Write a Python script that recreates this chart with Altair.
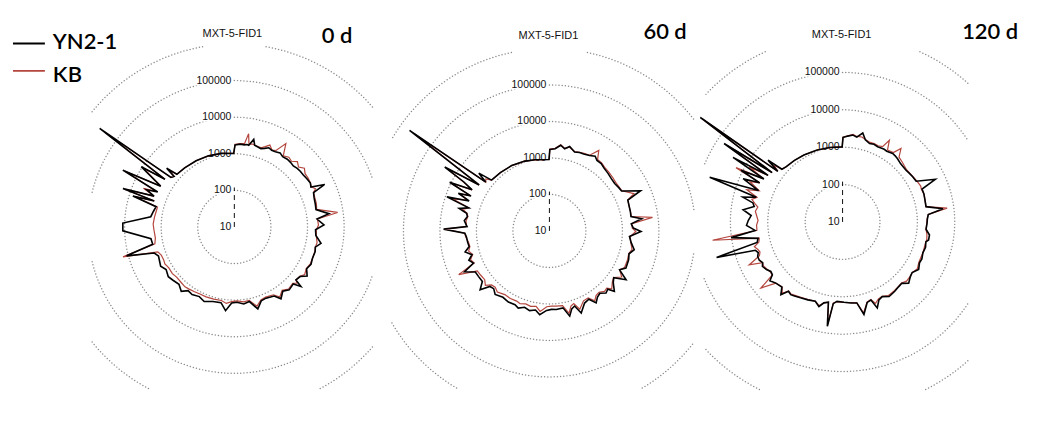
import math
import pandas as pd
import altair as alt

SERIES = ["YN2-1", "KB"]
COLORS = ["#000000", "#b4463e"]
ring_levels = [100, 1000, 10000, 100000, 1000000]
axis_values = [10, 100, 1000, 10000, 100000]
axis_text = ["10", "100", "1000", "10000", "100000"]
panel_title = "MXT-5-FID1"
day_labels = ["0 d", "60 d", "120 d"]

# ---- panel 1 (0 d): angle (deg, clockwise from top) and intensity ----
p1_angle = [0.5, 4, 7, 8.7, 10, 12.5, 14, 18.7, 21, 23.5,
            26, 28.6, 31.7, 34.5, 38, 41, 44, 47, 50, 53,
            56.4, 60, 62.5, 64.8, 66.5, 70, 74, 78, 82, 84.5,
            88.7, 92, 96, 100.7, 104, 107, 112, 116, 120, 124,
            127, 130.7, 131.8, 134, 138.9, 143, 147, 150, 156, 160,
            164, 168.6, 173, 178, 182, 186, 190, 196, 202, 206.7,
            212, 216, 219.5, 224, 229, 233, 238, 242, 245, 249,
            252, 255, 258, 262, 268, 272, 277, 281, 284.5, 287,
            288, 289, 291, 293, 294.5, 297, 299, 302.9, 304.5, 306.2,
            308, 310, 311, 312.5, 320, 330, 340, 350, 359.5]
p1_yn = [1740, 1860, 1820, 1910, 1860, 2820, 2000, 1820, 2000, 2290,
         2140, 2190, 2400, 2140, 2240, 2190, 2090, 2240, 2290, 2290,
         2400, 2510, 2290, 5370, 2290, 2090, 2000, 1910, 4070, 1860,
         2820, 1660, 1740, 2570, 1910, 2040, 2000, 2140, 1910, 2510,
         1780, 1660, 2750, 1740, 1910, 1580, 2190, 1510, 1350, 1410,
         2140, 1200, 1320, 1150, 1200, 2000, 1260, 1320, 1580, 1350,
         1510, 1410, 1910, 1510, 1660, 1820, 1580, 1910, 1780, 1660,
         2000, 11200, 1910, 2000, 11200, 11200, 2000, 1780, 1620, 7940,
         2000, 16600, 2240, 3980, 2000, 26300, 2000, 10700, 2000, 363000,
         1580, 1410, 2820, 1350, 1290, 1230, 1170, 1100, 1020]
p1_kb = [1820, 1910, 2000, 3800, 2000, 2090, 2000, 1910, 2240, 2750,
         2190, 2400, 4790, 2290, 2630, 2400, 3020, 2510, 3160, 2630,
         2630, 2510, 2340, 2820, 2290, 2190, 2140, 2000, 7080, 1910,
         2000, 1740, 1780, 2000, 1910, 2000, 2000, 2040, 1860, 2090,
         1740, 1660, 2000, 1660, 1780, 1480, 1910, 1380, 1260, 1320,
         1780, 1120, 1150, 1050, 1100, 1260, 1100, 1120, 1150, 1150,
         1200, 1260, 1320, 1260, 1230, 1320, 1290, 1410, 1350, 1380,
         1580, 14100, 1660, 1510, 1580, 1660, 1580, 1510, 1480, 7080,
         2000, 14100, 2240, 5010, 2240, 22400, 2000, 8910, 2000, 251000,
         1580, 1410, 2240, 1350, 1290, 1230, 1170, 1100, 1020]

# ---- panel 2 (60 d) ----
p2_angle = [0.3, 4, 7.5, 10.5, 13.5, 17.7, 21, 24, 28, 31.5,
            34, 37.5, 41, 45.5, 50, 54, 58, 61, 66.2, 68.5,
            72, 76.6, 80, 82.5, 85, 88, 90.4, 94, 98, 102.5,
            106, 110, 115.9, 119, 122.5, 126, 129, 132.9, 135, 137.6,
            141, 144, 147, 150, 154, 158.8, 161.5, 164, 166.6, 170,
            175, 178.5, 182, 186.6, 190, 194, 198, 202, 205, 210,
            215, 220.5, 224, 227, 229.7, 233, 237.4, 241, 244.3, 247,
            250, 253, 256, 259, 262, 266, 268.5, 271, 273, 277,
            280, 282, 284, 286, 288.4, 290.5, 292.5, 294, 296, 298,
            299.8, 301.4, 303.2, 305.7, 307.5, 309.3, 311.3, 320, 330, 340,
            348.4, 359.7]
p2_yn = [1700, 1820, 2340, 1950, 2400, 1860, 2000, 2040, 2190, 2510,
         2140, 2140, 1910, 1780, 1660, 1620, 1740, 1820, 5370, 2040,
         1950, 1910, 1860, 3550, 1780, 2000, 3240, 1580, 1820, 2400,
         1860, 2040, 2140, 1580, 3090, 1510, 1780, 2690, 1820, 2000,
         1580, 1740, 2240, 1450, 1580, 2570, 1480, 1660, 2510, 1380,
         1450, 1410, 1510, 2040, 1580, 1780, 1580, 1910, 1700, 1780,
         1660, 1950, 1580, 1700, 3090, 2000, 2040, 2090, 3800, 1820,
         2240, 1660, 2400, 1740, 1820, 1910, 2090, 7940, 1820, 2240,
         1910, 2090, 3550, 2000, 9120, 2240, 5010, 2240, 11000, 2510,
         5010, 22900, 2000, 525000, 1580, 3160, 1290, 1230, 1170, 1070,
         977, 912]
p2_kb = [1740, 1860, 2400, 2000, 2290, 1910, 2040, 2140, 2240, 3890,
         2290, 2240, 2040, 1950, 1860, 1780, 1820, 1860, 3390, 2040,
         1950, 1910, 1910, 7080, 1860, 1860, 2340, 1660, 1780, 2090,
         1820, 1910, 1950, 1580, 2240, 1480, 1660, 2140, 1660, 1740,
         1450, 1510, 1910, 1320, 1350, 2000, 1260, 1380, 2090, 1200,
         1170, 1150, 1200, 1660, 1260, 1350, 1260, 1410, 1320, 1380,
         1350, 1580, 1380, 1480, 2000, 1660, 1740, 1820, 5750, 1740,
         2000, 1580, 1910, 1660, 1740, 2000, 2090, 7410, 1910, 2000,
         1860, 2000, 2820, 2000, 6310, 2510, 4470, 2400, 10000, 2510,
         5620, 20000, 2000, 347000, 1580, 1780, 1290, 1230, 1170, 1070,
         977, 912]

# ---- panel 3 (120 d) ----
p3_angle = [0.3, 3.5, 6.8, 9.5, 12.8, 15.5, 19, 22, 25, 28,
            29.8, 32, 36.2, 38.5, 41, 45, 50.8, 54, 57.2, 61,
            65.3, 67.5, 71, 75, 79.6, 82.5, 85, 88, 91, 95,
            98.5, 101.8, 103.5, 107, 111, 115, 118, 122, 126, 129,
            132.8, 136, 139, 143, 148, 152, 155, 158, 160, 163,
            167, 170, 174, 179, 184, 186.5, 188.3, 190, 193, 195.6,
            199, 204, 209, 213, 215.5, 218, 220.3, 223, 227.5, 231,
            233, 235.4, 238, 241, 243, 245.3, 247.9, 250, 252, 254.3,
            256.5, 259, 262, 264.5, 268, 271, 274, 277, 280, 282,
            284, 286, 288.6, 290.5, 293.5, 295.3, 297, 298.7, 300.5, 302,
            303.5, 305, 306.3, 308, 309.7, 311, 314.5, 322, 330, 340,
            350, 359.7]
p3_yn = [1820, 2000, 2190, 2000, 2750, 1910, 1660, 1740, 1660, 1700,
         1740, 1700, 1860, 1820, 1740, 1580, 1550, 1620, 1700, 1780,
         5370, 2000, 2000, 1910, 1860, 5130, 2000, 1860, 1820, 1740,
         2240, 2240, 1950, 2090, 2000, 2190, 2140, 2510, 2000, 2140,
         2570, 1910, 1950, 2090, 2240, 1820, 2000, 3020, 1660, 1780,
         3470, 1580, 1510, 1410, 1350, 1580, 6610, 1510, 1660, 2240,
         1740, 1910, 2090, 2290, 2450, 2240, 3550, 2400, 2630, 3160,
         2240, 2140, 2510, 2820, 2510, 2820, 2820, 2510, 2820, 31600,
         2240, 2000, 10200, 2240, 3720, 3310, 2820, 4790, 2510, 2820,
         5620, 2510, 56200, 2510, 7940, 2820, 11200, 2510, 25100, 2240,
         63100, 2000, 525000, 1580, 3890, 1410, 1290, 1230, 1170, 1100,
         1050, 1020]
p3_kb = [1860, 2040, 2290, 2090, 2140, 1950, 1780, 1820, 1780, 1910,
         3310, 1860, 2000, 3240, 2000, 1820, 1620, 1660, 1740, 1860,
         2000, 1910, 2000, 1910, 1860, 6610, 2000, 1820, 1780, 1740,
         1910, 2000, 1950, 1950, 2000, 2000, 2040, 2290, 2000, 2090,
         2140, 1860, 1910, 2000, 2090, 1780, 1860, 2240, 1620, 1740,
         3160, 1580, 1480, 1410, 1380, 1510, 6030, 1510, 1660, 2090,
         1740, 1860, 2000, 2190, 2340, 2190, 3160, 2340, 2630, 6460,
         2240, 2240, 2400, 2630, 2510, 5620, 2510, 2240, 2400, 2820,
         2000, 1860, 32400, 2000, 2000, 1820, 2000, 2240, 2000, 2510,
         3160, 2400, 5010, 2400, 5010, 2820, 15800, 2510, 7940, 2240,
         50100, 2000, 447000, 1580, 2510, 1410, 1290, 1230, 1170, 1100,
         1050, 1020]

H = 412

panel_specs = [
    dict(angle=p1_angle, yn=p1_yn, kb=p1_kb, day=day_labels[0], W=384, k=36.7, cx=227, cy=219,
         clip=(-143, 139, -163, 181), title_xy=(225, 25), day_xy=(330, 27), legend=True),
    dict(angle=p2_angle, yn=p2_yn, kb=p2_kb, day=day_labels[1], W=303, k=36.6, cx=156, cy=223,
         clip=(-158, 145, -159, 179), title_xy=(155, 27), day_xy=(272, 23), legend=False),
    dict(angle=p3_angle, yn=p3_yn, kb=p3_kb, day=day_labels[2], W=341, k=37.5, cx=147, cy=214,
         clip=(-139, 126, -168, 171), title_xy=(146, 26), day_xy=(295, 23), legend=False),
]


def line_df(angle, yn, kb):
    if not (len(angle) == len(yn) == len(kb)):
        raise ValueError(f"length mismatch {len(angle)} {len(yn)} {len(kb)}")
    rows = []
    for name, vals in zip(SERIES, (yn, kb)):
        for i, (a, v) in enumerate(zip(angle, vals)):
            rows.append({"series": name, "i": i, "angle": a, "value": v})
    return pd.DataFrame(rows)


def ring_df(k):
    rows = []
    for lvl in ring_levels:
        dec = math.log10(lvl) - 1
        n = int(round(2 * math.pi * dec * k / 3.2))
        for j in range(n):
            rows.append({"value": lvl, "angle": 360.0 * j / n})
    return pd.DataFrame(rows)


def polar(ch):
    return (ch.transform_calculate(r="log(datum.value)/LN10 - 1")
              .transform_calculate(px="datum.r*sin(datum.angle*PI/180)")
              .transform_calculate(py="datum.r*cos(datum.angle*PI/180)"))


def make_panel(s):
    k, W, cx, cy = s["k"], s["W"], s["cx"], s["cy"]
    xs = alt.Scale(domain=[-cx / k, (W - cx) / k], nice=False, zero=False)
    ys = alt.Scale(domain=[-(H - cy) / k, cy / k], nice=False, zero=False)
    X = alt.X("px:Q", scale=xs, axis=None)
    Y = alt.Y("py:Q", scale=ys, axis=None)
    x0, x1, y0, y1 = [v / k for v in s["clip"]]

    rings = (polar(alt.Chart(ring_df(k)))
             .transform_filter(f"datum.px >= {x0} && datum.px <= {x1} && datum.py >= {y0} && datum.py <= {y1}")
             .mark_circle(size=2.2, color="#7c7c7c", opacity=0.9)
             .encode(x=X, y=Y))

    lab_df = pd.DataFrame({"value": axis_values, "label": axis_text, "angle": [0] * len(axis_values)})
    halo = (polar(alt.Chart(lab_df))
            .mark_text(align="right", baseline="middle", dx=-3, fontSize=10.5, font="Liberation Sans",
                       stroke="white", strokeWidth=3, color="white")
            .encode(x=X, y=Y, text="label:N"))
    labels = (polar(alt.Chart(lab_df))
              .mark_text(align="right", baseline="middle", dx=-3, fontSize=10.5, font="Liberation Sans",
                         color="#111111")
              .encode(x=X, y=Y, text="label:N"))

    axis_rule = (alt.Chart(pd.DataFrame({"value": [10], "value2": [120]}))
                 .transform_calculate(px="0")
                 .transform_calculate(py="log(datum.value)/LN10 - 1")
                 .transform_calculate(py2="log(datum.value2)/LN10 - 1")
                 .mark_rule(color="#111111", strokeWidth=1, strokeDash=[5, 4])
                 .encode(x=X, y=Y, y2="py2:Q"))

    df = line_df(s["angle"], s["yn"], s["kb"])
    kb_line = (polar(alt.Chart(df)).transform_filter(alt.datum.series == "KB")
               .mark_line(interpolate="linear-closed", strokeWidth=1.2, color=COLORS[1])
               .encode(x=X, y=Y, order="i:Q"))
    yn_line = (polar(alt.Chart(df)).transform_filter(alt.datum.series == "YN2-1")
               .mark_line(interpolate="linear-closed", strokeWidth=1.6, color=COLORS[0])
               .encode(x=X, y=Y, order="i:Q"))

    title = (alt.Chart(pd.DataFrame({"t": [panel_title]}))
             .mark_text(font="Liberation Sans", fontSize=11, align="center", baseline="middle", color="#111111")
             .encode(text="t:N", x=alt.value(s["title_xy"][0]), y=alt.value(s["title_xy"][1])))
    day = (alt.Chart(pd.DataFrame({"t": [s["day"]]}))
           .mark_text(font="Lato", fontSize=22, fontWeight=600, align="center", baseline="middle",
                      color="#000000")
           .encode(text="t:N", x=alt.value(s["day_xy"][0]), y=alt.value(s["day_xy"][1])))

    layers = [rings, halo, labels, axis_rule, kb_line, yn_line, title, day]

    if s["legend"]:
        leg_y = [35, 62.5]
        txt_y = [33.5, 66.5]
        widths = [2.2, 1.6]
        for name, col, ly, ty, sw in zip(SERIES, COLORS, leg_y, txt_y, widths):
            ldf = pd.DataFrame({"s": [name]})
            layers.append(alt.Chart(ldf).mark_rule(color=col, strokeWidth=sw)
                          .encode(x=alt.value(5), x2=alt.value(37), y=alt.value(ly)))
            layers.append(alt.Chart(ldf).mark_text(font="Lato", fontSize=22, fontWeight=600, align="left",
                                                   baseline="middle", color="#000000")
                          .encode(text="s:N", x=alt.value(45), y=alt.value(ty)))

    return alt.layer(*layers).properties(width=W, height=H)


panels = [make_panel(s) for s in panel_specs]

chart = (alt.hconcat(*panels, spacing=0)
         .resolve_scale(x="independent", y="independent")
         .properties(padding=0)
         .configure_view(strokeWidth=0))

chart.save("out.html", embed_options={"renderer": "svg", "actions": False})
